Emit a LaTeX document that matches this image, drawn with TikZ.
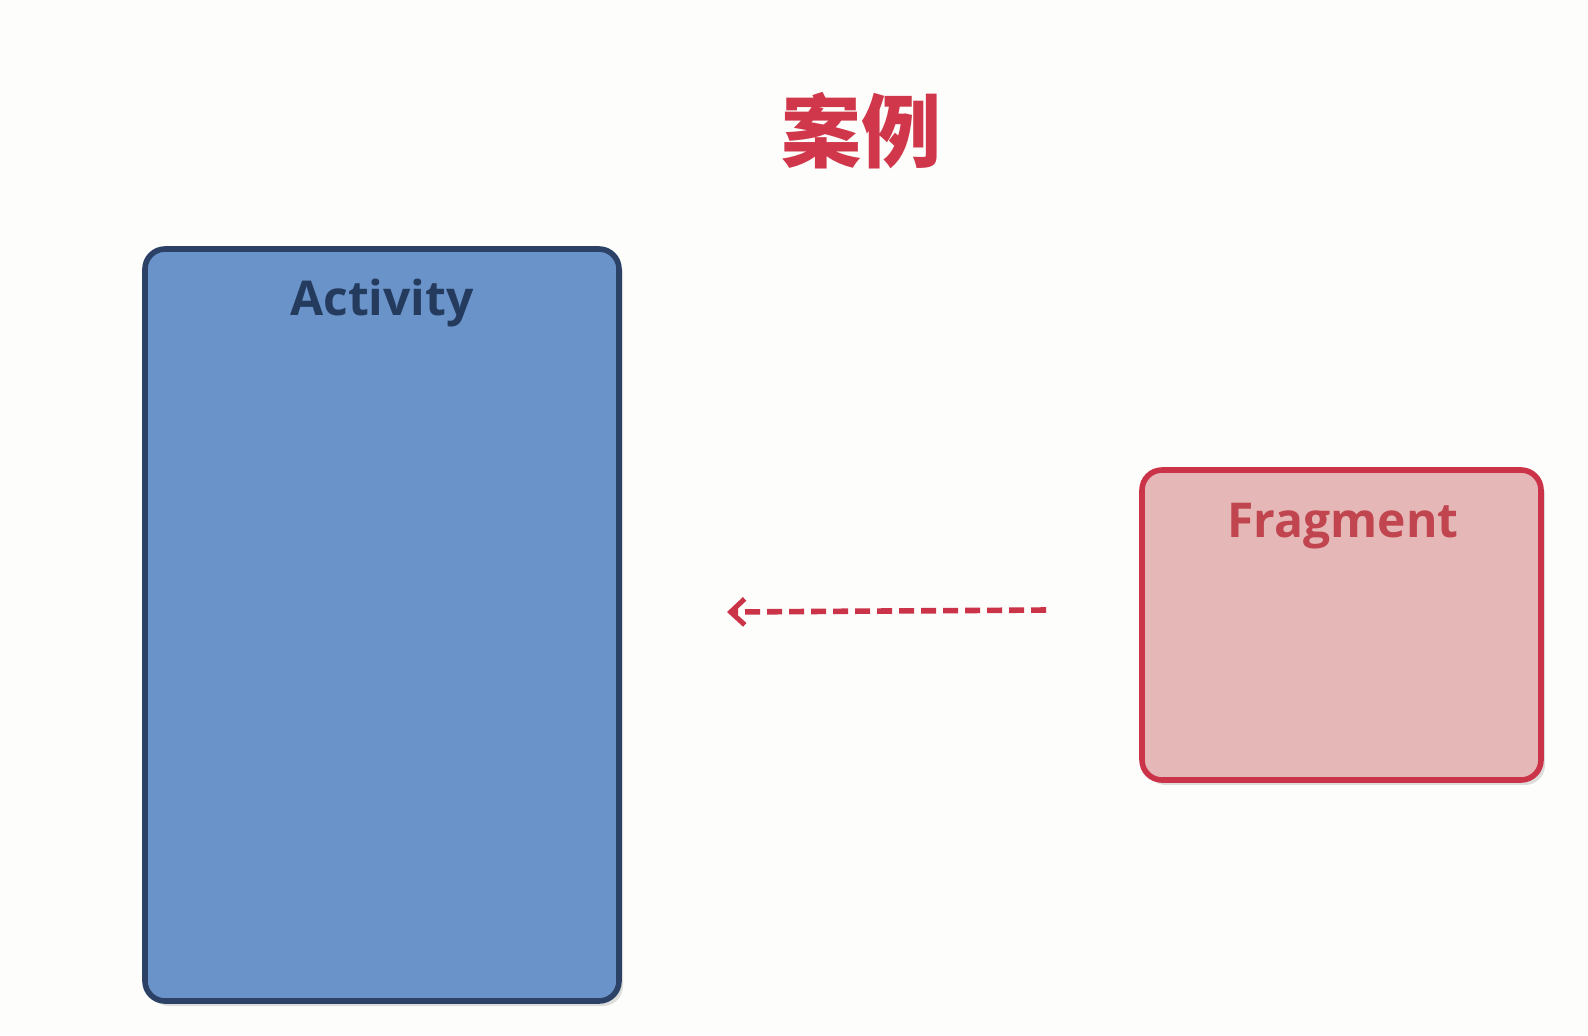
\documentclass[tikz,border=0pt]{standalone}
\usepackage{fontspec}
\setmainfont{Open Sans}
\newfontfamily\cjk{Noto Sans CJK SC}
\usetikzlibrary{arrows.meta,shadows}
\definecolor{hintergrund}{HTML}{FDFDFB}
\definecolor{blaufuell}{HTML}{6A93C9}
\definecolor{blaurand}{HTML}{2B4266}
\definecolor{blautext}{HTML}{243B5E}
\definecolor{rotfuell}{HTML}{E6B7B7}
\definecolor{rotrand}{HTML}{CB3349}
\definecolor{rottext}{HTML}{C0454F}
\definecolor{titelrot}{HTML}{D0374A}
\tikzset{
  kasten/.style={rectangle, rounded corners=10pt, line width=2.8pt,
    drop shadow={shadow xshift=2pt, shadow yshift=-2.5pt, opacity=0.25}},
  kastentext/.style={font=\bfseries\fontsize{24}{29}\selectfont},
}
\begin{document}
\begin{tikzpicture}[x=0.5pt, y=-0.5pt]
  % Rahmen
  \fill[hintergrund] (0,0) rectangle (1588,1035);
  \useasboundingbox (0,0) rectangle (1588,1035);
  % Titel
  \node[text=titelrot, font=\cjk\bfseries\fontsize{40}{48}\selectfont] (titel) at (861,131) {案例};
  % Kaesten
  \node[kasten, draw=blaurand, fill=blaufuell,
    minimum width=237pt, minimum height=376pt] (activity) at (382,625) {};
  \node[kasten, draw=rotrand, fill=rotfuell,
    minimum width=199.5pt, minimum height=155pt] (fragment) at (1341.5,625) {};
  % Beschriftungen
  \node[kastentext, text=blautext] (activitytext) at (382,303) {Activity};
  \node[kastentext, text=rottext] (fragmenttext) at (1343,526) {Fragment};
  % Pfeil
  \coordinate (pfeilstart) at (1046,610);
  \coordinate (pfeilende) at (727,612);
  \draw[rotrand, line width=2.8pt, dash pattern=on 7.5pt off 3.5pt,
    -{Straight Barb[length=7pt, width=13pt, line width=2.5pt]}] (pfeilstart) -- (pfeilende);
\end{tikzpicture}
\end{document}
